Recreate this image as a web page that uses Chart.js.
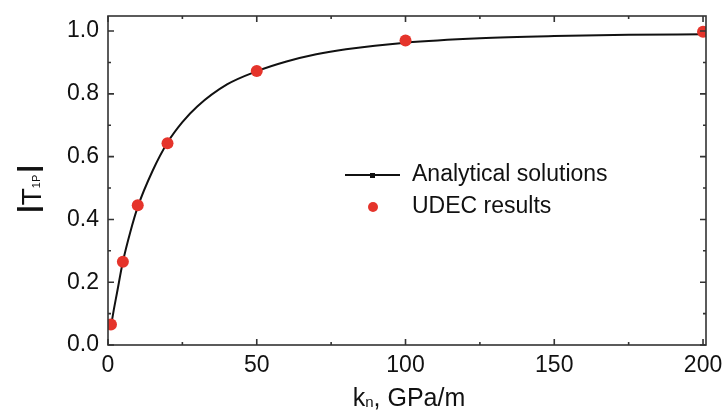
<!DOCTYPE html>
<html>
<head>
<meta charset="utf-8">
<script src="https://cdn.jsdelivr.net/npm/chart.js@4/dist/chart.umd.min.js"></script>
<style>
  html, body { margin: 0; padding: 0; background: #fff; }
  #wrap { width: 723px; height: 410px; }
</style>
</head>
<body>
<div id="wrap"><canvas id="chart" width="723" height="410"></canvas></div>
<script>
// UDEC results (points)
const udecKn = [1, 5, 10, 20, 50, 100, 200];
const udecT = [0.065, 0.265, 0.445, 0.643, 0.873, 0.970, 0.998];

// analytical solution
const curveKn = [1, 2, 3, 5, 7.5, 10, 15, 20, 25, 30, 40, 50, 60, 70, 80, 100, 125, 150, 175, 200];
const curveT = [0.06, 0.115, 0.165, 0.265, 0.36, 0.44, 0.555, 0.645, 0.71, 0.76, 0.83, 0.872, 0.903, 0.926, 0.942, 0.963, 0.977, 0.984, 0.988, 0.990];

// tick labels
const xTicks = [0, 50, 100, 150, 200];
const xMinorTicks = [25, 75, 125, 175];
const yTicks = [0, 0.2, 0.4, 0.6, 0.8, 1.0];
const yMinorTicks = [0.1, 0.3, 0.5, 0.7, 0.9];

const legendLabels = ['Analytical solutions', 'UDEC results'];

const FONT = '"Liberation Sans", Arial, sans-serif';
const AXIS_COLOR = '#333';
const RED = '#e5342b';

function noPad(s) {
    s.paddingTop = 0; s.paddingBottom = 0;
    s.paddingLeft = 0; s.paddingRight = 0;
}

// box around the plot with inward ticks on all four sides
const frame = {
    id: 'frame',
    afterDraw(chart) {
        const ctx = chart.ctx;
        const a = chart.chartArea;
        const xs = chart.scales.x, ys = chart.scales.y;
        ctx.save();
        ctx.strokeStyle = AXIS_COLOR;
        ctx.lineWidth = 1.6;
        ctx.strokeRect(a.left, a.top, a.right - a.left, a.bottom - a.top);
        ctx.beginPath();
        function xTick(v, len) {
            const px = xs.getPixelForValue(v);
            ctx.moveTo(px, a.bottom); ctx.lineTo(px, a.bottom - len);
            ctx.moveTo(px, a.top); ctx.lineTo(px, a.top + len);
        }
        function yTick(v, len) {
            const py = ys.getPixelForValue(v);
            ctx.moveTo(a.left, py); ctx.lineTo(a.left + len, py);
            ctx.moveTo(a.right, py); ctx.lineTo(a.right - len, py);
        }
        xTicks.forEach(v => xTick(v, 6));
        xMinorTicks.forEach(v => xTick(v, 3));
        yTicks.forEach(v => yTick(v, 6));
        yMinorTicks.forEach(v => yTick(v, 3));
        ctx.stroke();

        // axis titles
        ctx.fillStyle = '#111';
        ctx.textBaseline = 'alphabetic';
        ctx.textAlign = 'left';
        // x title: k_n, GPa/m
        const cx = (a.left + a.right) / 2 + 2;
        ctx.font = '25px ' + FONT;
        const kW = ctx.measureText('k').width;
        const restW = ctx.measureText(', GPa/m').width;
        ctx.font = '15px ' + FONT;
        const nW = ctx.measureText('n').width;
        let x0 = cx - (kW + nW + restW) / 2;
        const by = 406;
        ctx.font = '25px ' + FONT;
        ctx.fillText('k', x0, by);
        ctx.font = '15px ' + FONT;
        ctx.fillText('n', x0 + kW, by + 1);
        ctx.font = '25px ' + FONT;
        ctx.fillText(', GPa/m', x0 + kW + nW, by);

        // y title: |T_1P|
        ctx.save();
        ctx.translate(41, 189);
        ctx.rotate(-Math.PI / 2);
        ctx.font = 'bold 28px ' + FONT;
        const barW = ctx.measureText('|').width;
        ctx.font = '28px ' + FONT;
        const tW = ctx.measureText('T').width;
        ctx.font = '11px ' + FONT;
        const subW = ctx.measureText('1P').width;
        let yx = -(barW * 2 + tW + subW + 2) / 2;
        ctx.font = 'bold 28px ' + FONT;
        ctx.fillText('|', yx, -4);
        ctx.font = '28px ' + FONT;
        ctx.fillText('T', yx + barW, 0);
        ctx.font = '11px ' + FONT;
        ctx.fillText('1P', yx + barW + tW, -1);
        ctx.font = 'bold 28px ' + FONT;
        ctx.fillText('|', yx + barW + tW + subW + 2, -4);
        ctx.restore();

        // legend inside the plot
        ctx.font = '23px ' + FONT;
        ctx.textBaseline = 'middle';
        ctx.strokeStyle = '#111';
        ctx.lineWidth = 2;
        ctx.beginPath();
        ctx.moveTo(345, 175); ctx.lineTo(400, 175);
        ctx.stroke();
        ctx.fillStyle = '#111';
        ctx.fillRect(370, 173, 5, 5);
        ctx.fillText(legendLabels[0], 412, 175);
        ctx.fillStyle = RED;
        ctx.beginPath();
        ctx.arc(373, 207, 5, 0, Math.PI * 2);
        ctx.fill();
        ctx.fillStyle = '#111';
        ctx.fillText(legendLabels[1], 412, 207);
        ctx.restore();
    }
};

new Chart(document.getElementById('chart'), {
    type: 'scatter',
    data: {
        datasets: [{
            label: legendLabels[0],
            type: 'line',
            data: curveKn.map((k, i) => ({ x: k, y: curveT[i] })),
            borderColor: '#111',
            borderWidth: 2,
            pointRadius: 0,
            fill: false,
            cubicInterpolationMode: 'monotone',
            order: 2
        }, {
            label: legendLabels[1],
            data: udecKn.map((k, i) => ({ x: k, y: udecT[i] })),
            backgroundColor: RED,
            borderColor: RED,
            pointRadius: 6,
            pointBorderWidth: 0,
            order: 1
        }]
    },
    options: {
        responsive: false,
        animation: false,
        layout: { padding: { top: 16, right: 17, left: 0, bottom: 0 } },
        plugins: {
            legend: { display: false },
            tooltip: { enabled: false }
        },
        scales: {
            x: {
                type: 'linear',
                min: 0,
                max: 201,
                grid: { display: false, drawTicks: false },
                border: { display: false },
                afterBuildTicks: s => { s.ticks = xTicks.map(v => ({ value: v })); },
                afterFit: s => { s.height = 65; noPad(s); },
                ticks: {
                    padding: 7,
                    color: '#111',
                    font: { family: FONT, size: 23 },
                    maxRotation: 0
                }
            },
            y: {
                type: 'linear',
                min: 0,
                max: 1.048,
                grid: { display: false, drawTicks: false },
                border: { display: false },
                afterBuildTicks: s => { s.ticks = yTicks.map(v => ({ value: v })); },
                afterFit: s => { s.width = 108; noPad(s); },
                ticks: {
                    padding: 9,
                    color: '#111',
                    font: { family: FONT, size: 23 },
                    callback: v => v.toFixed(1)
                }
            }
        }
    },
    plugins: [frame]
});
</script>
</body>
</html>
